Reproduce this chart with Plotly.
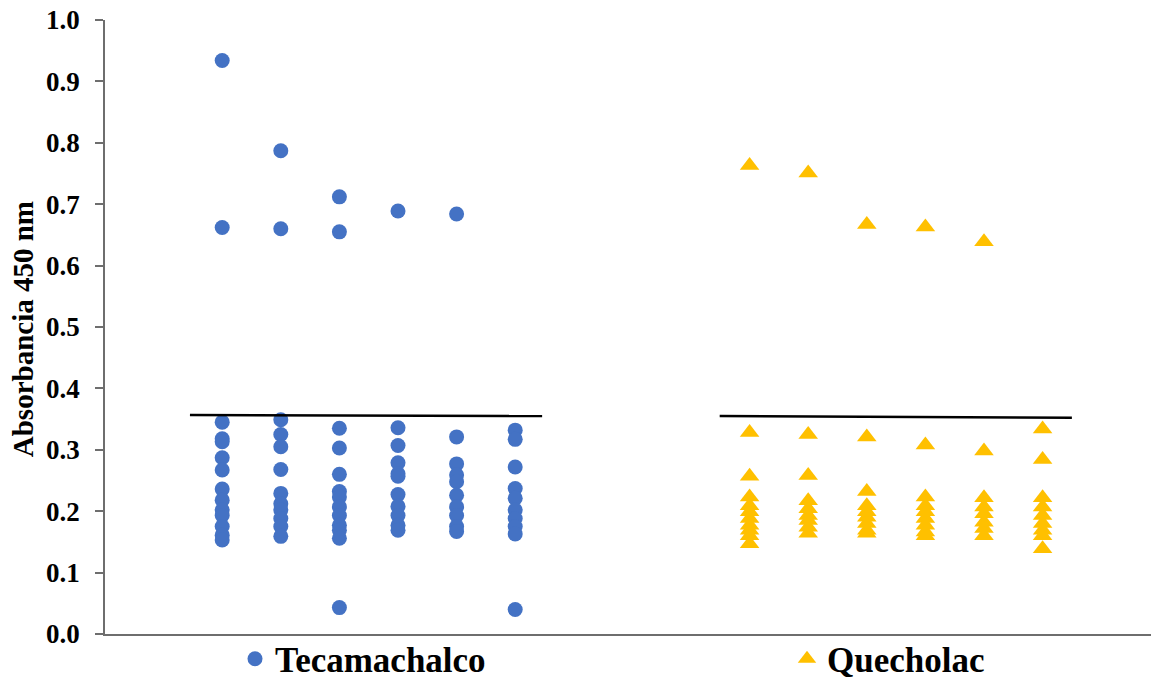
import plotly.graph_objects as go

# Column positions (x) for each group
teca_cols = [1, 2, 3, 4, 5, 6]
que_cols = [10, 11, 12, 13, 14, 15]

# Absorbance values per column, Tecamachalco
teca_c1 = [0.934, 0.662, 0.345, 0.318, 0.313, 0.287, 0.267, 0.236, 0.218, 0.202, 0.193, 0.175, 0.161, 0.153]
teca_c2 = [0.787, 0.660, 0.349, 0.325, 0.305, 0.268, 0.229, 0.212, 0.202, 0.188, 0.175, 0.159]
teca_c3 = [0.712, 0.655, 0.335, 0.303, 0.260, 0.232, 0.223, 0.207, 0.193, 0.177, 0.169, 0.156, 0.043]
teca_c4 = [0.689, 0.336, 0.307, 0.279, 0.261, 0.257, 0.227, 0.208, 0.193, 0.177, 0.169]
teca_c5 = [0.684, 0.321, 0.277, 0.259, 0.248, 0.226, 0.207, 0.193, 0.175, 0.167]
teca_c6 = [0.332, 0.317, 0.272, 0.237, 0.221, 0.202, 0.188, 0.175, 0.163, 0.040]

# Absorbance values per column, Quecholac
que_c1 = [0.763, 0.328, 0.257, 0.223, 0.209, 0.199, 0.188, 0.177, 0.169, 0.160, 0.147]
que_c2 = [0.751, 0.325, 0.258, 0.217, 0.204, 0.193, 0.185, 0.174, 0.164]
que_c3 = [0.667, 0.321, 0.232, 0.209, 0.199, 0.190, 0.180, 0.169, 0.164]
que_c4 = [0.663, 0.308, 0.223, 0.209, 0.199, 0.188, 0.177, 0.166, 0.160]
que_c5 = [0.639, 0.298, 0.222, 0.207, 0.196, 0.182, 0.172, 0.160]
que_c6 = [0.334, 0.284, 0.222, 0.207, 0.193, 0.180, 0.169, 0.160, 0.139]

# Cut-off lines (x start/end, y start/end)
teca_cut_x = [0.45, 6.46]
teca_cut_y = [0.3567, 0.355]
que_cut_x = [9.49, 15.5]
que_cut_y = [0.355, 0.352]

y_ticks = [0.0, 0.1, 0.2, 0.3, 0.4, 0.5, 0.6, 0.7, 0.8, 0.9, 1.0]

teca_data = [teca_c1, teca_c2, teca_c3, teca_c4, teca_c5, teca_c6]
que_data = [que_c1, que_c2, que_c3, que_c4, que_c5, que_c6]

def flatten(cols, data):
    xs, ys = [], []
    for c, vals in zip(cols, data):
        xs += [c] * len(vals)
        ys += vals
    return xs, ys

tx, ty = flatten(teca_cols, teca_data)
qx, qy = flatten(que_cols, que_data)

FONT = "Liberation Serif"

fig = go.Figure()
fig.add_trace(go.Scatter(x=tx, y=ty, mode="markers", name="<b>Tecamachalco</b>",
                         marker=dict(symbol="circle", size=15, color="#4472C4"),
                         legend="legend"))
fig.add_trace(go.Scatter(x=qx, y=qy, mode="markers", name="<b>Quecholac</b>",
                         marker=dict(symbol="triangle-up", size=17, color="#FFC000"),
                         legend="legend2"))
fig.add_trace(go.Scatter(x=teca_cut_x, y=teca_cut_y, mode="lines", showlegend=False,
                         line=dict(color="black", width=2.5)))
fig.add_trace(go.Scatter(x=que_cut_x, y=que_cut_y, mode="lines", showlegend=False,
                         line=dict(color="black", width=2.5)))

legend_common = dict(orientation="h", xref="container", yref="container",
                     yanchor="middle", y=1 - 659 / 679, xanchor="left",
                     font=dict(family=FONT, size=35, color="black"),
                     bgcolor="rgba(0,0,0,0)", borderwidth=0)

fig.update_layout(
    width=1151, height=679,
    margin=dict(l=105, r=0, t=20, b=45, autoexpand=False),
    paper_bgcolor="white", plot_bgcolor="white",
    font=dict(family=FONT, color="black"),
    legend=dict(x=235 / 1151, **legend_common),
    legend2=dict(x=787 / 1151, **legend_common),
    xaxis=dict(range=[-1, 16.85], showgrid=False, zeroline=False, showline=True, automargin=False,
               linecolor="#6E6E6E", linewidth=1.5, showticklabels=False, ticks=""),
    yaxis=dict(range=[0, 1.0], tickvals=y_ticks, ticktext=[f"<b>{v:.1f}</b>" for v in y_ticks],
               showgrid=False, zeroline=False, showline=True, automargin=False,
               linecolor="#6E6E6E", linewidth=1.5,
               ticks="outside", ticklen=8, tickcolor="#6E6E6E", tickwidth=1.5,
               ticklabelstandoff=10,
               tickfont=dict(family=FONT, size=27, color="black")),
    annotations=[dict(text="<b>Absorbancia 450 nm</b>", xref="paper", yref="paper",
                      x=-0.079, y=0.497, xanchor="center", yanchor="middle", textangle=-90,
                      showarrow=False, font=dict(family=FONT, size=29, color="black"))],
)

fig.write_html("out.html",
               config={"displayModeBar": False},
               post_script="document.body.style.margin='0';document.body.style.overflow='hidden';")
